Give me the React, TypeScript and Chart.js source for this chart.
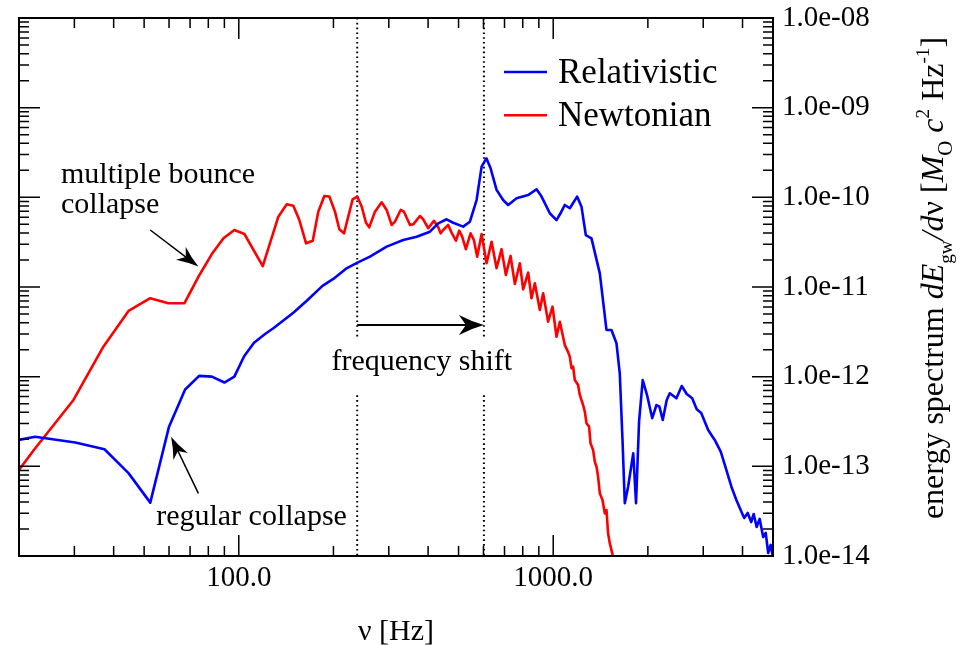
import React, { useEffect, useRef } from 'react';
import { Chart, registerables } from 'chart.js';
Chart.register(...registerables);

const FONT = "'Liberation Serif', 'Times New Roman', serif";

// ---- data ----
const seriesLabels = ['Relativistic', 'Newtonian'];
const seriesColors = ['#0000ff', '#ff0000'];

const relFreq = [20.0, 22.5, 30.2, 37.4, 44.6, 52.3, 60.0, 67.5, 74.8, 82.1, 90.0, 96.8, 104.0, 111.8, 121.2, 128.8, 149.1, 164.2, 184.6, 199.8, 219.3, 238.5, 261.3, 295.3, 333.4, 367.9, 405.4, 430.9, 458.1, 480.8, 517.2, 543.3, 570.6, 591.9, 613.1, 632.1, 660.4, 693.0, 719.0, 764.5, 832.2, 885.1, 918.2, 975.4, 1024.5, 1054.8, 1088.8, 1129.3, 1191.1, 1230.1, 1269.5, 1323.3, 1406.6, 1477, 1532, 1589, 1628, 1661, 1689, 1730, 1797, 1834, 1875, 1926, 1991, 2065, 2130, 2177, 2230, 2296, 2348, 2465, 2563, 2658, 2767, 2860, 2956, 3110, 3263, 3410, 3537, 3687, 3824, 3967, 4049, 4154, 4262, 4341, 4436, 4535, 4653, 4740, 4827, 4916, 4989];
const relEnergy = [1.97e-13, 2.14e-13, 1.84e-13, 1.55e-13, 8.4e-14, 3.94e-14, 2.77e-13, 7.2e-13, 1.02e-12, 1.0e-12, 8.6e-13, 1.0e-12, 1.69e-12, 2.39e-12, 2.99e-12, 3.47e-12, 5.16e-12, 6.98e-12, 1.03e-11, 1.23e-11, 1.6e-11, 1.87e-11, 2.18e-11, 2.82e-11, 3.34e-11, 3.64e-11, 4.14e-11, 5.13e-11, 5.69e-11, 5.21e-11, 4.71e-11, 5.35e-11, 9.33e-11, 2.2e-10, 2.72e-10, 2.11e-10, 1.21e-10, 9.33e-11, 8.22e-11, 9.75e-11, 1.06e-10, 1.23e-10, 1.02e-10, 6.64e-11, 5.58e-11, 6.64e-11, 8.22e-11, 7.55e-11, 1.02e-10, 7.87e-11, 3.8e-11, 3.49e-11, 1.42e-11, 3.32e-12, 3.32e-12, 2.36e-12, 1.09e-12, 1.97e-13, 3.87e-14, 5.89e-14, 1.4e-13, 3.87e-14, 3.15e-13, 9.18e-13, 6.1e-13, 3.44e-13, 4.83e-13, 4.62e-13, 3.29e-13, 5.5e-13, 6.53e-13, 5.74e-13, 7.87e-13, 6.41e-13, 5.74e-13, 4.33e-13, 3.94e-13, 2.54e-13, 1.97e-13, 1.46e-13, 9.6e-14, 5.93e-14, 4.22e-14, 3.12e-14, 2.65e-14, 3.02e-14, 2.39e-14, 2.94e-14, 2.11e-14, 2.59e-14, 1.63e-14, 1.81e-14, 1.08e-14, 1.33e-14, 1.0e-14];

const newtFreq = [20.0, 22.3, 29.8, 37.1, 44.6, 52.3, 59.7, 67.2, 74.4, 82.1, 89.4, 96.8, 104.2, 119.2, 133.6, 142.1, 149.1, 155.8, 163.7, 171.9, 179.0, 187.1, 194.1, 202.3, 208.8, 216.1, 230.2, 238.2, 246.0, 253.8, 260.0, 271.1, 284.7, 295.3, 306.3, 313.8, 327.2, 335.2, 350.3, 358.8, 376.8, 386.0, 400.4, 417.5, 430.9, 438.5, 446.8, 463.4, 475.1, 490.3, 502.3, 513.4, 527.5, 546.0, 559.4, 573.1, 591.9, 613.8, 636.8, 660.4, 685.0, 707.0, 731.7, 755.1, 783.2, 802.4, 832.3, 853.1, 874.0, 906.6, 928.8, 963.4, 994.9, 1024.5, 1049.6, 1088.8, 1115.4, 1129.3, 1143.5, 1156.8, 1171.3, 1199.9, 1214.9, 1244.5, 1260.3, 1276, 1300.6, 1314, 1339.2, 1356, 1373, 1389, 1406.6, 1434.7, 1459, 1477, 1494.5, 1513.2, 1550, 1570];
const newtEnergy = [9.1e-14, 1.52e-13, 5.5e-13, 2.16e-12, 5.4e-12, 7.5e-12, 6.6e-12, 6.6e-12, 1.3e-11, 2.33e-11, 3.49e-11, 4.32e-11, 3.9e-11, 1.71e-11, 6.08e-11, 8.36e-11, 8.07e-11, 5.58e-11, 3.07e-11, 3.28e-11, 6.92e-11, 1.035e-10, 1.02e-10, 6.92e-11, 4.41e-11, 3.97e-11, 9.5e-11, 1.02e-10, 7.87e-11, 5.21e-11, 4.63e-11, 6.92e-11, 8.8e-11, 7.23e-11, 4.92e-11, 5.35e-11, 7.23e-11, 6.92e-11, 4.92e-11, 5.0e-11, 6.19e-11, 5.69e-11, 4.52e-11, 5.48e-11, 4.63e-11, 3.97e-11, 4.32e-11, 4.92e-11, 4.04e-11, 3.28e-11, 4.25e-11, 3.64e-11, 2.64e-11, 3.97e-11, 3.34e-11, 2.18e-11, 3.9e-11, 1.84e-11, 3.2e-11, 1.62e-11, 2.64e-11, 1.36e-11, 2.22e-11, 1.08e-11, 1.84e-11, 9.42e-12, 1.45e-11, 7.48e-12, 1.1e-11, 5.55e-12, 8.51e-12, 4.1e-12, 6.03e-12, 2.79e-12, 4.1e-12, 2.25e-12, 1.88e-12, 1.66e-12, 1.24e-12, 1.29e-12, 9.18e-13, 8.07e-13, 6.25e-13, 4.83e-13, 4.07e-13, 3.02e-13, 2.77e-13, 1.81e-13, 1.52e-13, 1.13e-13, 9.9e-14, 7.67e-14, 5.01e-14, 4.22e-14, 2.99e-14, 3.26e-14, 1.79e-14, 1.39e-14, 9.8e-15, 7.3e-15];

const xTickValues = [100, 1000];
const xMinorValues = [20, 30, 40, 50, 60, 70, 80, 90, 200, 300, 400, 500, 600, 700, 800, 900, 2000, 3000, 4000, 5000];
const yTickValues = [1e-14, 1e-13, 1e-12, 1e-11, 1e-10, 1e-9, 1e-8];
const xRange = [20, 5000];
const yRange = [1e-14, 1e-8];

// frequency-shift markers (Hz) and the arrow level
const shiftFreqs = [238, 602];
const shiftArrowLevel = 3.77e-12;
const dottedGap = [2.8e-12, 6.2e-13];

// annotation texts and arrows, anchored in data coordinates [Hz, energy]
const bounceText = ['multiple bounce', 'collapse'];
const bounceTextAt = [27.2, 1.45e-10];
const bounceArrow = [[52.3, 4.32e-11], [74.4, 1.69e-11]];
const regularText = 'regular collapse';
const regularTextAt = [54.6, 2.22e-14];
const regularArrow = [[74.4, 5.0e-14], [60.9, 2.14e-13]];
const shiftText = 'frequency shift';
const shiftTextAt = [382, 1.19e-12];

const xTitle = 'ν [Hz]';
const yTitleParts = [
  { t: 'energy spectrum ' },
  { t: 'dE', italic: true },
  { t: 'gw', size: 0.6, dy: 0.28 },
  { t: '/d', italic: true },
  { t: 'ν' },
  { t: ' [' },
  { t: 'M', italic: true },
  { t: 'O', size: 0.65, dy: 0.28 },
  { t: ' c', italic: true },
  { t: '2', size: 0.6, dy: -0.45 },
  { t: ' Hz' },
  { t: '-1', size: 0.6, dy: -0.45 },
  { t: ']' },
];

function fmtExp(v: number) {
  const e = Math.round(Math.log10(v));
  const sign = e < 0 ? '-' : '+';
  return '1.0e' + sign + String(Math.abs(e)).padStart(2, '0');
}

function arrow(ctx: CanvasRenderingContext2D, x1: number, y1: number, x2: number, y2: number, headLen: number, headHalf: number, lw: number) {
  const ang = Math.atan2(y2 - y1, x2 - x1);
  ctx.lineWidth = lw;
  ctx.beginPath();
  ctx.moveTo(x1, y1);
  ctx.lineTo(x2 - Math.cos(ang) * headLen * 0.6, y2 - Math.sin(ang) * headLen * 0.6);
  ctx.stroke();
  ctx.save();
  ctx.translate(x2, y2);
  ctx.rotate(ang);
  ctx.beginPath();
  ctx.moveTo(0, 0);
  ctx.quadraticCurveTo(-headLen * 0.5, -headHalf * 0.35, -headLen, -headHalf);
  ctx.lineTo(-headLen * 0.72, 0);
  ctx.lineTo(-headLen, headHalf);
  ctx.quadraticCurveTo(-headLen * 0.5, headHalf * 0.35, 0, 0);
  ctx.closePath();
  ctx.fill();
  ctx.restore();
}

const decorPlugin = {
  id: 'decor',
  beforeDatasetsDraw(chart: any) {
    const { ctx, scales: { x, y }, chartArea: a } = chart;
    ctx.save();
    ctx.strokeStyle = '#000';
    ctx.lineWidth = 2;
    ctx.setLineDash([1.6, 3.2]);
    const g1 = y.getPixelForValue(dottedGap[0]);
    const g2 = y.getPixelForValue(dottedGap[1]);
    for (const f of shiftFreqs) {
      const px = x.getPixelForValue(f);
      ctx.beginPath();
      ctx.moveTo(px, a.top);
      ctx.lineTo(px, g1);
      ctx.moveTo(px, g2);
      ctx.lineTo(px, a.bottom);
      ctx.stroke();
    }
    ctx.restore();
  },
  afterDatasetsDraw(chart: any) {
    const { ctx, scales: { x, y }, chartArea: a } = chart;
    ctx.save();
    ctx.strokeStyle = '#000';
    ctx.fillStyle = '#000';

    // minor/major ticks, inward on all four sides
    ctx.lineWidth = 1.5;
    const major = 21, minor = 10;
    const xt = [...xTickValues.map(v => [v, major]), ...xMinorValues.map(v => [v, minor])];
    for (const [v, len] of xt) {
      const px = x.getPixelForValue(v);
      ctx.beginPath();
      ctx.moveTo(px, a.bottom); ctx.lineTo(px, a.bottom - len);
      ctx.moveTo(px, a.top); ctx.lineTo(px, a.top + len);
      ctx.stroke();
    }
    for (let d = 0; d < yTickValues.length; d++) {
      const base = yTickValues[d];
      for (let m = 1; m <= 9; m++) {
        const v = base * m;
        if (v > yRange[1] * 1.0001) continue;
        const len = m === 1 ? major : minor;
        const py = y.getPixelForValue(v);
        ctx.beginPath();
        ctx.moveTo(a.left, py); ctx.lineTo(a.left + len, py);
        ctx.moveTo(a.right, py); ctx.lineTo(a.right - len, py);
        ctx.stroke();
      }
    }
    // frame
    ctx.lineWidth = 2;
    ctx.strokeRect(a.left, a.top, a.right - a.left, a.bottom - a.top);

    // arrows
    const P = (p: number[]) => [x.getPixelForValue(p[0]), y.getPixelForValue(p[1])];
    const s1 = P([shiftFreqs[0], shiftArrowLevel]);
    const s2 = P([shiftFreqs[1], shiftArrowLevel]);
    arrow(ctx, s1[0], s1[1], s2[0], s2[1], 25, 10, 2.2);
    const b1 = P(bounceArrow[0]), b2 = P(bounceArrow[1]);
    arrow(ctx, b1[0], b1[1], b2[0], b2[1], 22, 8, 1.5);
    const r1 = P(regularArrow[0]), r2 = P(regularArrow[1]);
    arrow(ctx, r1[0], r1[1], r2[0], r2[1], 22, 8, 1.5);

    // annotation texts
    ctx.font = `30px ${FONT}`;
    ctx.textBaseline = 'alphabetic';
    ctx.textAlign = 'left';
    const bt = P(bounceTextAt);
    bounceText.forEach((t, i) => ctx.fillText(t, bt[0], bt[1] + i * 30.6));
    const rt = P(regularTextAt);
    ctx.fillText(regularText, rt[0], rt[1]);
    const st = P(shiftTextAt);
    ctx.textAlign = 'center';
    ctx.fillText(shiftText, st[0], st[1]);

    // legend inside the plot
    ctx.textAlign = 'left';
    ctx.font = `35px ${FONT}`;
    chart.data.datasets.forEach((ds: any, i: number) => {
      const ly = a.top + 54 + i * 43.3;
      ctx.strokeStyle = ds.borderColor;
      ctx.lineWidth = 2.5;
      ctx.beginPath();
      ctx.moveTo(a.left + 485, ly);
      ctx.lineTo(a.left + 528, ly);
      ctx.stroke();
      ctx.fillStyle = '#000';
      ctx.fillText(ds.label, a.left + 539, ly + 11);
    });

    // rotated y-axis title with sub/superscripts
    ctx.save();
    ctx.translate(a.right + 170, (a.top + a.bottom) / 2 - 9);
    ctx.rotate(-Math.PI / 2);
    const baseSize = 32;
    let total = 0;
    const parts = yTitleParts.map((p: any) => {
      const size = baseSize * (p.size || 1);
      const font = `${p.italic ? 'italic ' : ''}${size}px ${FONT}`;
      ctx.font = font;
      const w = ctx.measureText(p.t).width;
      total += w;
      return { ...p, font, w };
    });
    let cx = -total / 2;
    ctx.fillStyle = '#000';
    ctx.textAlign = 'left';
    ctx.textBaseline = 'alphabetic';
    for (const p of parts) {
      ctx.font = p.font;
      ctx.fillText(p.t, cx, (p.dy || 0) * baseSize);
      cx += p.w;
    }
    ctx.restore();

    ctx.restore();
  },
};

export default function App() {
  const ref = useRef<HTMLCanvasElement>(null);
  useEffect(() => {
    Chart.defaults.font.family = FONT;
    Chart.defaults.color = '#000';
    const chart = new Chart(ref.current as HTMLCanvasElement, {
      type: 'line',
      data: {
        datasets: [
          {
            label: seriesLabels[0],
            data: relFreq.map((f, i) => ({ x: f, y: relEnergy[i] })),
            borderColor: seriesColors[0],
            borderWidth: 2.6,
            pointRadius: 0,
            tension: 0,
            borderJoinStyle: 'round',
            borderCapStyle: 'round',
            fill: false,
          },
          {
            label: seriesLabels[1],
            data: newtFreq.map((f, i) => ({ x: f, y: newtEnergy[i] })),
            borderColor: seriesColors[1],
            borderWidth: 2.6,
            pointRadius: 0,
            tension: 0,
            borderJoinStyle: 'round',
            borderCapStyle: 'round',
            fill: false,
          },
        ],
      },
      options: {
        animation: false,
        responsive: true,
        maintainAspectRatio: false,
        events: [],
        layout: { padding: { left: 19, top: 18, right: 0, bottom: 0 } },
        plugins: { legend: { display: false }, tooltip: { enabled: false } },
        scales: {
          x: {
            type: 'logarithmic',
            min: xRange[0],
            max: xRange[1],
            grid: { display: false, drawTicks: false },
            border: { display: false },
            afterBuildTicks: (s: any) => { s.ticks = xTickValues.map(v => ({ value: v })); },
            ticks: {
              callback: (v: any) => Number(v).toFixed(1),
              font: { size: 29 },
              padding: 5,
              maxRotation: 0,
              autoSkip: false,
              color: '#000',
            },
            title: {
              display: true,
              text: xTitle,
              font: { size: 30, lineHeight: 0.8 },
              padding: { top: 0, bottom: 1 },
              color: '#000',
            },
            afterFit: (s: any) => { s.height = 89; s.paddingLeft = 0; s.paddingRight = 0; },
          },
          y: {
            type: 'logarithmic',
            position: 'right',
            min: yRange[0],
            max: yRange[1],
            grid: { display: false, drawTicks: false },
            border: { display: false },
            afterBuildTicks: (s: any) => { s.ticks = yTickValues.map(v => ({ value: v })); },
            ticks: {
              callback: (v: any) => fmtExp(Number(v)),
              font: { size: 29 },
              padding: 9,
              autoSkip: false,
              color: '#000',
            },
            afterFit: (s: any) => { s.width = 193; s.paddingTop = 0; s.paddingBottom = 0; },
          },
        },
      } as any,
      plugins: [decorPlugin],
    });
    return () => chart.destroy();
  }, []);
  return (
    <div style={{ position: 'absolute', left: 0, top: 0, width: 966, height: 645, background: '#fff' }}>
      <canvas ref={ref} />
    </div>
  );
}
